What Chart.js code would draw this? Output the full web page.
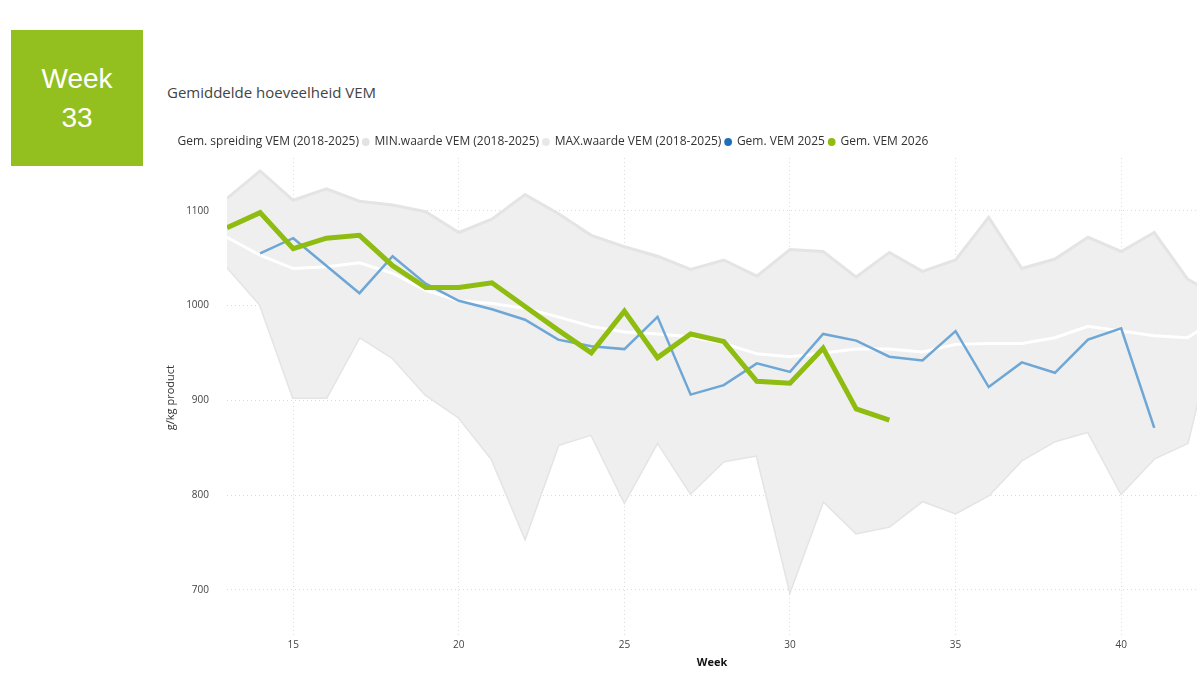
<!DOCTYPE html>
<html>
<head>
<meta charset="utf-8">
<script src="https://cdn.jsdelivr.net/npm/chart.js@4"></script>
<style>
  html, body { margin: 0; padding: 0; background: #fff; }
  #wrap { position: relative; width: 1203px; height: 699px; }
  #weekBox {
    position: absolute; left: 11px; top: 30px; width: 132px; height: 136px;
    background: #93bf1f; color: #fff; text-align: center;
    font-family: "Liberation Sans", Arial, sans-serif; font-size: 28px; line-height: 39px;
    box-sizing: border-box; padding-top: 29px;
  }
  #title {
    position: absolute; left: 167px; top: 82px;
    font-family: "Open Sans", sans-serif; font-size: 15px; color: #444;
  }
  canvas { position: absolute; left: 0; top: 0; }
</style>
</head>
<body>
<div id="wrap">
  <div id="weekBox">Week<br>33</div>
  <div id="title">Gemiddelde hoeveelheid VEM</div>
  <canvas id="myChart" width="1203" height="699"></canvas>
</div>
<script>
  // weeks 13..43
  var weeks = [13,14,15,16,17,18,19,20,21,22,23,24,25,26,27,28,29,30,31,32,33,34,35,36,37,38,39,40,41,42,43];
  var xTicks = [15, 20, 25, 30, 35, 40];
  var yTicks = [700, 800, 900, 1000, 1100];

  var gemSpreiding = [1072,1053,1039,1041,1045,1034,1016,1005,1002,997,988,978,972,970,967,960,949,946,950,954,954,951,959,960,960,966,978,973,968,966,988];
  var minWaarde = [1041,1001,903,903,967,945,906,882,838,755,853,864,793,856,802,836,842,699,794,760,767,794,781,800,837,857,867,802,839,855,1000];
  var maxWaarde = [1113,1142,1111,1123,1110,1106,1099,1077,1091,1117,1097,1074,1062,1052,1038,1048,1031,1059,1057,1030,1056,1036,1048,1093,1039,1049,1072,1057,1077,1028,1008];
  var vem2025 = [null,1055,1071,1042,1013,1052,1023,1005,996,985,964,957,954,988,906,916,939,930,970,963,946,942,973,914,940,929,964,976,871,null,null];
  var vem2026 = [1082,1098,1060,1071,1074,1042,1019,1019,1024,999,974,950,994,945,970,962,920,918,955,891,879,null,null,null,null,null,null,null,null,null,null];

  var seriesNames = ["Gem. spreiding VEM (2018-2025)", "MIN.waarde VEM (2018-2025)", "MAX.waarde VEM (2018-2025)", "Gem. VEM 2025", "Gem. VEM 2026"];
  var legendColors = ["#ffffff", "#e3e3e3", "#ebe6eb", "#1f6fb8", "#8fbc10"];

  function pts(arr) {
    return weeks.map(function (w, i) { return { x: w, y: arr[i] }; });
  }

  var font = "'Open Sans', sans-serif";

  var ctx = document.getElementById("myChart").getContext("2d");
  var chart = new Chart(ctx, {
    type: "line",
    data: {
      datasets: [
        {
          label: seriesNames[0],
          data: pts(gemSpreiding),
          borderColor: "#ffffff",
          borderWidth: 3,
          order: 2
        },
        {
          label: seriesNames[1],
          data: pts(minWaarde),
          borderColor: "#e4e4e4",
          borderWidth: 3,
          order: 4
        },
        {
          label: seriesNames[2],
          data: pts(maxWaarde),
          borderColor: "#e4e4e4",
          borderWidth: 3,
          backgroundColor: "#efefef",
          fill: 1,
          order: 3
        },
        {
          label: seriesNames[3],
          data: pts(vem2025),
          borderColor: "#6ea7d5",
          borderWidth: 2.5,
          order: 1
        },
        {
          label: seriesNames[4],
          data: pts(vem2026),
          borderColor: "#8fbc10",
          borderWidth: 5,
          order: 0
        }
      ]
    },
    options: {
      responsive: false,
      animation: false,
      spanGaps: false,
      elements: { point: { radius: 0, hoverRadius: 0 }, line: { tension: 0, borderJoinStyle: "miter" } },
      layout: { padding: { left: 162, right: 6, top: 132, bottom: 29.5 } },
      plugins: {
        tooltip: { enabled: false },
        legend: {
          position: "top",
          align: "start",
          labels: {
            usePointStyle: true,
            pointStyle: "circle",
            boxWidth: 5.5,
            boxHeight: 5.5,
            padding: 4,
            color: "#333",
            font: { family: font, size: 12 },
            generateLabels: function (c) {
              return c.data.datasets.map(function (ds, i) {
                return {
                  text: ds.label,
                  fillStyle: legendColors[i],
                  strokeStyle: legendColors[i],
                  lineWidth: 0,
                  pointStyle: "circle",
                  fontColor: "#333",
                  datasetIndex: i,
                  hidden: false
                };
              });
            }
          }
        }
      },
      scales: {
        x: {
          type: "linear",
          min: 13,
          max: 42.29,
          afterBuildTicks: function (scale) {
            scale.ticks = xTicks.map(function (v) { return { value: v }; });
          },
          ticks: { padding: 2, color: "#444", font: { family: font, size: 10 }, maxRotation: 0 },
          grid: { color: "#dcdcdc", drawTicks: false },
          border: { display: false, dash: [1, 3] },
          title: { display: true, text: "Week", color: "#111", font: { family: font, size: 11, weight: "bold" }, padding: { top: 3, bottom: 0 } }
        },
        y: {
          min: 650,
          max: 1155.6,
          afterBuildTicks: function (scale) {
            scale.ticks = yTicks.map(function (v) { return { value: v }; });
          },
          ticks: {
            padding: 18, color: "#444", font: { family: font, size: 10 },
            callback: function (v) { return String(v); }
          },
          grid: { color: "#dcdcdc", drawTicks: false },
          border: { display: false, dash: [1, 3] },
          title: { display: true, text: "g/kg product", color: "#333", font: { family: font, size: 11 }, padding: { top: 2, bottom: 0 } },
          afterFit: function (scale) { scale.width = 65; }
        }
      }
    }
  });
</script>
</body>
</html>
